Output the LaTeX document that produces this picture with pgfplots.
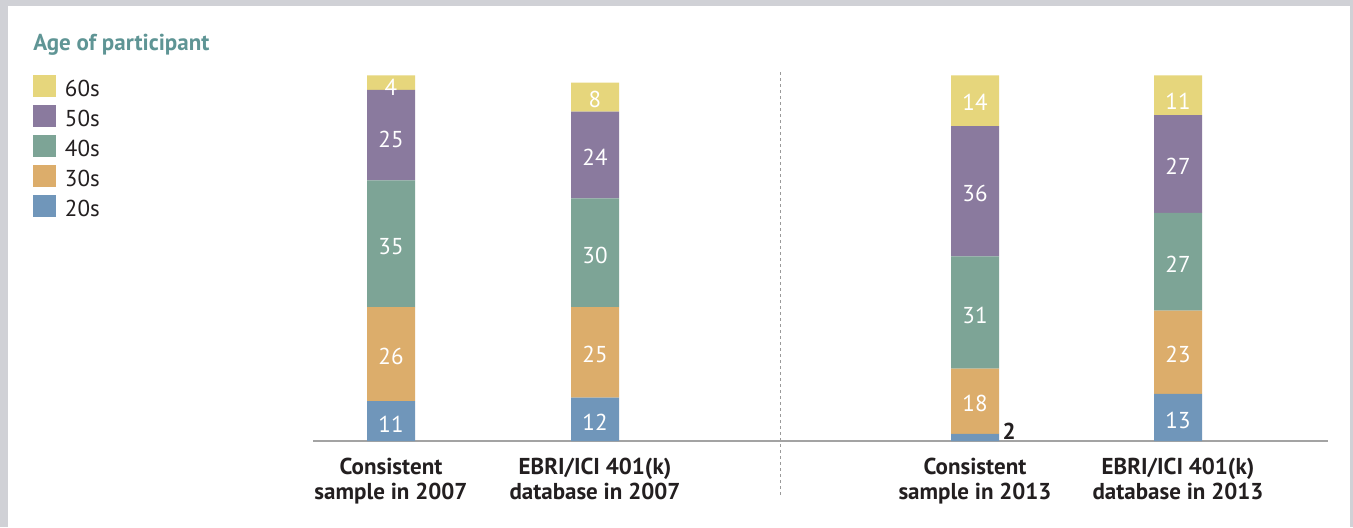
\documentclass[border=0pt]{standalone}
\usepackage{pgfplots}
\pgfplotsset{compat=1.18}
\usepackage{fontspec}
\setmainfont{PT Sans}

\definecolor{c60}{HTML}{E6D67C}
\definecolor{c50}{HTML}{8A7A9E}
\definecolor{c40}{HTML}{7DA496}
\definecolor{c30}{HTML}{DCAD6B}
\definecolor{c20}{HTML}{7096BA}
\definecolor{titlecol}{HTML}{5F9595}
\definecolor{framegray}{HTML}{D0D1D6}
\definecolor{basegray}{HTML}{A3A3A3}
\definecolor{dashgray}{HTML}{9A9A9A}
\definecolor{textdark}{HTML}{231F20}

\newcommand{\txt}{\fontsize{11.5}{12.5}\selectfont}

\pgfplotsset{
  common/.style={
    at={(0,0)}, anchor=south west,
    width=676.5pt, height=263.5pt, scale only axis,
    xmin=0, xmax=1353, ymin=-23.757, ymax=121.82,
  },
}

\begin{document}
\begin{tikzpicture}
% grey frame around the panel
\fill[framegray] (0,0) rectangle (676.5pt,263.5pt);
\fill[white] (4pt,0) rectangle (675.2pt,260.5pt);

\begin{axis}[
  common,
  ybar stacked, bar width=48,
  axis x line=middle, axis y line=none,
  x axis line style={draw=none,-},
  ytick=\empty,
  xtick={391,595,975,1178},
  xticklabels={{Consistent\\sample in 2007},{EBRI/ICI 401(k)\\database in 2007},
               {Consistent\\sample in 2013},{EBRI/ICI 401(k)\\database in 2013}},
  xtick style={draw=none},
  xticklabel style={align=center, font=\txt\bfseries, text=textdark, yshift=-3pt},
  legend image code/.code={\path[fill=none,draw=none] (0pt,-4pt) rectangle (16pt,11pt);
    \fill[#1] (0pt,-3.5pt) rectangle (11.5pt,7.5pt);},
  legend style={at={(axis description cs:0.02439,0.871)}, anchor=north west,
    draw=none, fill=none, inner sep=0pt, outer sep=0pt, row sep=-0.9pt,
    font=\txt, nodes={inner sep=0pt, text=textdark}},
  legend cell align=left,
  reverse legend,
]
\addplot[fill=c20, draw=none] coordinates {(391,11) (595,12) (975,2) (1178,13)};
\addplot[fill=c30, draw=none] coordinates {(391,26) (595,25) (975,18) (1178,23)};
\addplot[fill=c40, draw=none] coordinates {(391,35) (595,30) (975,31) (1178,27)};
\addplot[fill=c50, draw=none] coordinates {(391,25) (595,24) (975,36) (1178,27)};
\addplot[fill=c60, draw=none] coordinates {(391,4) (595,8) (975,14) (1178,11)};
\legend{20s,30s,40s,50s,60s}

\draw[basegray, line width=0.75pt] (axis cs:313,0) -- (axis cs:1328,0);
\draw[dashgray, line width=0.5pt, dash pattern=on 1.5pt off 1.5pt]
  (axis cs:780,101.9) -- (axis cs:780,-15.47);
\node[anchor=base west, text=titlecol, font=\txt\bfseries, inner sep=0pt]
  at (axis cs:33,107.8) {Age of participant};
\end{axis}

% value labels
\begin{axis}[
  common, hide axis, clip=false,
  nodes near coords, point meta=explicit symbolic,
  every node near coord/.append style={anchor=center, font=\txt, text=white},
]
\addplot[draw=none, mark=none] coordinates {
  (391,4.7)[11] (391,23.4)[26] (391,53.6)[35] (391,83.3)[25] (391,97.8)[4]
  (595,5.2)[12] (595,23.8)[25] (595,51.3)[30] (595,78.3)[24] (595,94.3)[8]
  (975,10.3)[18] (975,34.8)[31] (975,68.3)[36] (975,93.5)[14]
  (1178,5.8)[13] (1178,23.8)[23] (1178,48.8)[27] (1178,75.8)[27] (1178,93.8)[11]
};
\addplot[draw=none, mark=none, every node near coord/.append style={text=textdark, font=\txt\bfseries}]
  coordinates {(1009,2.6)[2]};
\end{axis}
\end{tikzpicture}
\end{document}
